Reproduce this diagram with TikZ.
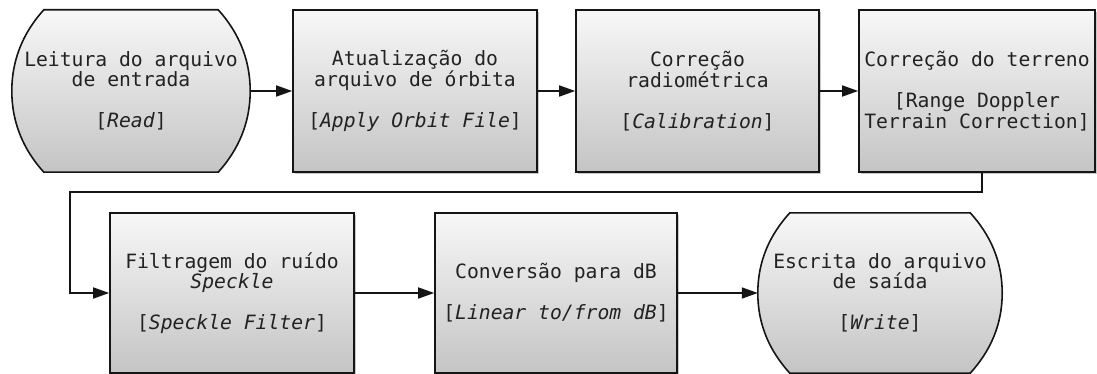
\documentclass[tikz,border=0pt]{standalone}
\usepackage{fontspec}
\setmainfont{DejaVu Sans Mono}
\usetikzlibrary{arrows.meta,calc,shadows,backgrounds}

\definecolor{edgecol}{HTML}{151515}
\definecolor{inkcol}{HTML}{222222}
\definecolor{shadecol}{HTML}{C8C8C8}

\tikzset{
  flow/.style={line width=1.6pt, draw=edgecol, -{Triangle[length=16pt,width=11pt]}},
  txt/.style={align=center, font=\fontsize{19.7}{20.5}\selectfont, inner sep=0pt, text=inkcol},
  gradfill/.style={top color=white!97!black, bottom color=black!23},
  procbox/.style={txt, gradfill, draw=edgecol, line width=1.6pt,
    drop shadow={shadow xshift=1.6pt, shadow yshift=-1.6pt, fill=shadecol, opacity=1}},
  termbox/.style={txt},
  termfill/.style={gradfill, draw=edgecol, line width=1.6pt},
}

% start/end shape: straight top and bottom, arched sides
\newcommand\terminalshape[1]{%
  \fill[shadecol, shift={(1.6pt,-1.6pt)}]
    ($(#1.north west)+(32,0)$) -- ($(#1.north east)+(-32,0)$)
    .. controls ($(#1.north east)+(-12,22)$) and ($(#1.east)+(0,-32)$) .. (#1.east)
    .. controls ($(#1.east)+(0,32)$) and ($(#1.south east)+(-12,-22)$) .. ($(#1.south east)+(-32,0)$)
    -- ($(#1.south west)+(32,0)$)
    .. controls ($(#1.south west)+(12,-22)$) and ($(#1.west)+(0,32)$) .. (#1.west)
    .. controls ($(#1.west)+(0,-32)$) and ($(#1.north west)+(12,22)$) .. ($(#1.north west)+(32,0)$)
    -- cycle;
  \shade[termfill]
    ($(#1.north west)+(32,0)$) -- ($(#1.north east)+(-32,0)$)
    .. controls ($(#1.north east)+(-12,22)$) and ($(#1.east)+(0,-32)$) .. (#1.east)
    .. controls ($(#1.east)+(0,32)$) and ($(#1.south east)+(-12,-22)$) .. ($(#1.south east)+(-32,0)$)
    -- ($(#1.south west)+(32,0)$)
    .. controls ($(#1.south west)+(12,-22)$) and ($(#1.west)+(0,32)$) .. (#1.west)
    .. controls ($(#1.west)+(0,-32)$) and ($(#1.north west)+(12,22)$) .. ($(#1.north west)+(32,0)$)
    -- cycle;
}

\begin{document}
\begin{tikzpicture}[x=1pt,y=-1pt]
  \useasboundingbox (0,0) rectangle (1097,374);

  % first row
  \node[termbox, minimum width=238pt, minimum height=162pt] (read) at (131,91)
    {Leitura do arquivo\\de entrada\\[20.5pt]{[}\textit{Read}{]}};
  \node[procbox, minimum width=244pt, minimum height=162pt] (orbit) at (415,91)
    {Atualização do\\arquivo de órbita\\[20.5pt]{[}\textit{Apply Orbit File}{]}};
  \node[procbox, minimum width=243pt, minimum height=162pt] (calib) at (697.5,91)
    {Correção\\radiométrica\\[20.5pt]{[}\textit{Calibration}{]}};
  \node[procbox, minimum width=236pt, minimum height=162pt] (terrain) at (977,91)
    {Correção do terreno\\[20.5pt]{[}Range Doppler\\Terrain Correction{]}};

  % second row
  \node[procbox, minimum width=244pt, minimum height=160pt] (filter) at (232,293)
    {Filtragem do ruído\\\textit{Speckle}\\[20.5pt]{[}\textit{Speckle Filter}{]}};
  \node[procbox, minimum width=242pt, minimum height=160pt] (dbconv) at (556,293)
    {Conversão para dB\\[20.5pt]{[}\textit{Linear to/from dB}{]}};
  \node[termbox, minimum width=244pt, minimum height=160pt] (write) at (880,293)
    {Escrita do arquivo\\de saída\\[20.5pt]{[}\textit{Write}{]}};

  \begin{scope}[on background layer]
    \terminalshape{read}
    \terminalshape{write}
  \end{scope}

  % connectors
  \coordinate (turn) at (70,192);
  \draw[flow] (read.east) -- (orbit.west);
  \draw[flow] (orbit.east) -- (calib.west);
  \draw[flow] (calib.east) -- (terrain.west);
  \draw[flow] ($(terrain.south)+(5,0)$) |- (turn) |- (filter.west);
  \draw[flow] (filter.east) -- (dbconv.west);
  \draw[flow] (dbconv.east) -- (write.west);
\end{tikzpicture}
\end{document}
